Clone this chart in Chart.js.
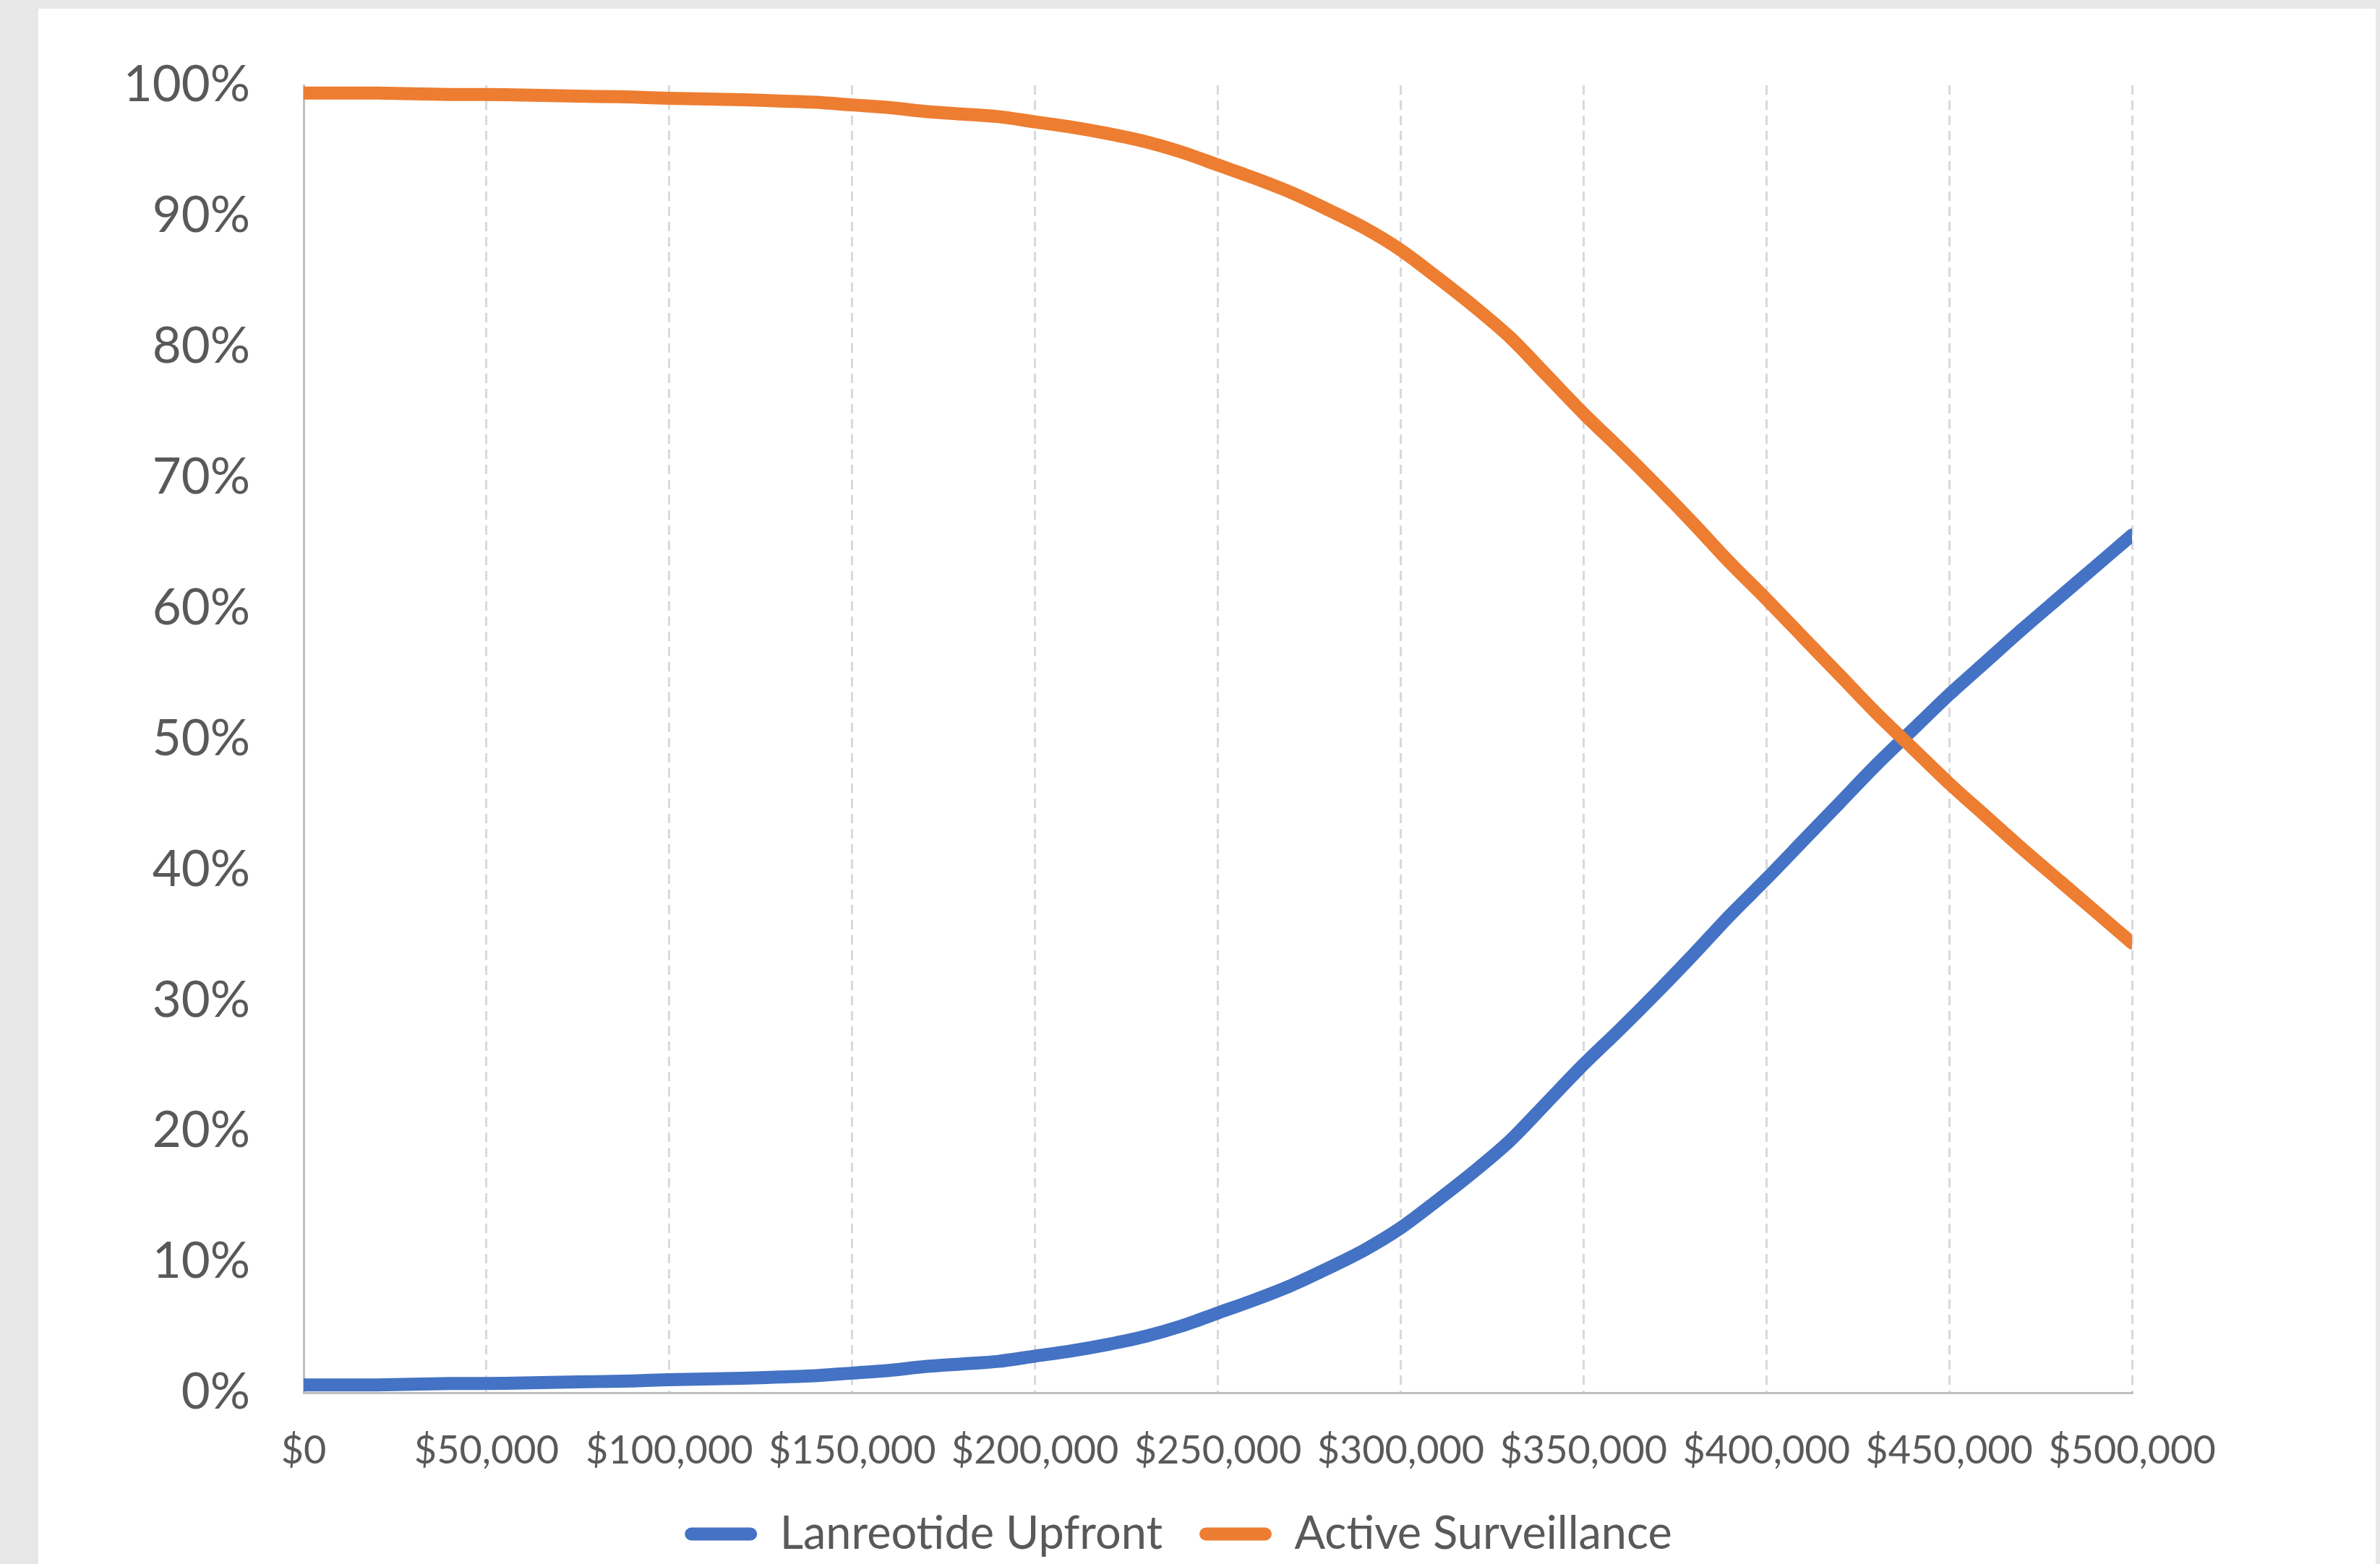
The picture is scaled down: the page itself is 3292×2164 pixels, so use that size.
<!DOCTYPE html>
<html lang="en">
<head>
<meta charset="utf-8">
<title>Probability cost-effective by willingness to pay</title>
<script src="https://cdn.jsdelivr.net/npm/chart.js@4.4.1/dist/chart.umd.min.js"></script>
<style>
  html, body {
    margin: 0;
    padding: 0;
    width: 3292px;
    height: 2164px;
    overflow: hidden;
    background: #e7e7e7;
  }
  .panel {
    position: absolute;
    left: 53px;
    top: 12px;
    width: 3233px;
    height: 2152px;
    background: #ffffff;
  }
  /* canvas runs a little past the panel so the plot box lands where it should */
  .chart-box {
    position: absolute;
    left: 58px;
    top: -24px;
    width: 3038px;
    height: 2176px;
  }
</style>
</head>
<body>
<div class="panel">
  <div class="chart-box">
    <canvas id="ceac-chart"></canvas>
  </div>
</div>

<script>
// Willingness-to-pay thresholds (USD) and probability each strategy is cost-effective (%)
const willingnessToPay = [
  0, 10000, 20000, 30000, 40000, 50000, 60000, 70000, 80000, 90000,
  100000, 110000, 120000, 130000, 140000, 150000, 160000, 170000, 180000, 190000,
  200000, 210000, 220000, 230000, 240000, 250000, 260000, 270000, 280000, 290000,
  300000, 310000, 320000, 330000, 340000, 350000, 360000, 370000, 380000, 390000,
  400000, 410000, 420000, 430000, 440000, 450000, 460000, 470000, 480000, 490000,
  500000
];

const lanreotideUpfront = [
  0.6, 0.6, 0.6, 0.65, 0.7, 0.7, 0.75, 0.8, 0.85, 0.9,
  1.0, 1.05, 1.1, 1.2, 1.3, 1.5, 1.7, 2.0, 2.2, 2.4,
  2.8, 3.2, 3.7, 4.3, 5.1, 6.1, 7.1, 8.2, 9.5, 10.9,
  12.6, 14.7, 16.9, 19.3, 22.2, 25.1, 27.8, 30.6, 33.5, 36.5,
  39.3, 42.2, 45.1, 48.0, 50.7, 53.4, 55.9, 58.4, 60.8, 63.2,
  65.6
];

const activeSurveillance = [
  99.4, 99.4, 99.4, 99.35, 99.3, 99.3, 99.25, 99.2, 99.15, 99.1,
  99.0, 98.95, 98.9, 98.8, 98.7, 98.5, 98.3, 98.0, 97.8, 97.6,
  97.2, 96.8, 96.3, 95.7, 94.9, 93.9, 92.9, 91.8, 90.5, 89.1,
  87.4, 85.3, 83.1, 80.7, 77.8, 74.9, 72.2, 69.4, 66.5, 63.5,
  60.7, 57.8, 54.9, 52.0, 49.3, 46.6, 44.1, 41.6, 39.2, 36.8,
  34.4
];

const seriesNames = ["Lanreotide Upfront", "Active Surveillance"];
const seriesColors = ["#4472C4", "#ED7D31"];

const xMax = 500000;
const xStep = 50000;
const yMax = 100;
const yStep = 10;

const textColor = "#595959";
const axisColor = "#BFBFBF";
const gridColor = "#D9D9D9";

document.addEventListener("DOMContentLoaded", () => {
  drawChart();
});

function toPoints(values) {
  return willingnessToPay.map((wtp, i) => ({ x: wtp, y: values[i] }));
}

function formatDollars(value) {
  return "$" + Number(value).toLocaleString("en-US");
}

function drawChart() {
  const ctx = document.getElementById("ceac-chart").getContext("2d");

  Chart.defaults.font.family = "Lato, 'Open Sans', sans-serif";
  Chart.defaults.color = textColor;

  const datasets = [lanreotideUpfront, activeSurveillance].map((values, index) => ({
    label: seriesNames[index],
    data: toPoints(values),
    borderColor: seriesColors[index],
    backgroundColor: seriesColors[index],
    borderWidth: 18,
    borderCapStyle: "round",
    borderJoinStyle: "round",
    pointRadius: 0,
    pointHoverRadius: 0,
    tension: 0.3,
    fill: false,
    // orange line sits on top where the curves cross
    order: index === 1 ? 0 : 1
  }));

  new Chart(ctx, {
    type: "line",
    data: { datasets },
    options: {
      responsive: true,
      maintainAspectRatio: false,
      animation: false,
      layout: {
        padding: { top: 130, right: 0, bottom: 0, left: 0 }
      },
      plugins: {
        tooltip: { enabled: false },
        legend: {
          display: true,
          position: "bottom",
          labels: {
            color: textColor,
            font: { size: 63 },
            boxWidth: 100,
            boxHeight: 18,
            padding: 51,
            useBorderRadius: true,
            borderRadius: 9,
            sort: (a, b) => a.datasetIndex - b.datasetIndex,
            generateLabels: chart => {
              const items = Chart.defaults.plugins.legend.labels.generateLabels(chart);
              return items.map(item => Object.assign(item, { lineWidth: 0, borderRadius: 9 }));
            }
          }
        }
      },
      scales: {
        x: {
          type: "linear",
          min: 0,
          max: xMax,
          grid: {
            color: ctx => (ctx.tick && ctx.tick.value === 0 ? "rgba(0,0,0,0)" : gridColor),
            lineWidth: 3,
            drawTicks: false
          },
          border: {
            display: true,
            color: axisColor,
            width: 3,
            dash: [13, 8]
          },
          ticks: {
            stepSize: xStep,
            autoSkip: false,
            maxRotation: 0,
            padding: 48,
            color: textColor,
            font: { size: 54 },
            callback: value => formatDollars(value)
          },
          afterFit: scale => {
            scale.height = 113;
          }
        },
        y: {
          min: 0,
          max: yMax,
          grid: {
            display: false,
            drawTicks: false
          },
          border: {
            display: true,
            color: axisColor,
            width: 3
          },
          ticks: {
            stepSize: yStep,
            padding: 74,
            color: textColor,
            font: { size: 69 },
            callback: value => `${value}%`
          },
          afterFit: scale => {
            scale.width = 309;
          }
        },
        // empty right-hand axis, keeps room for the last currency label
        yRight: {
          position: "right",
          display: true,
          grid: { display: false, drawTicks: false },
          border: { display: false },
          ticks: { display: false },
          afterFit: scale => {
            scale.width = 200;
          }
        }
      }
    }
  });
}
</script>
</body>
</html>
